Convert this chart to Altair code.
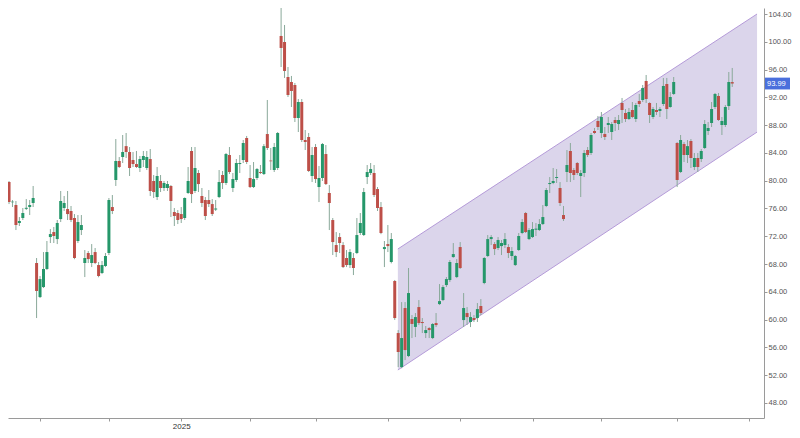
import altair as alt
import pandas as pd

opens = [78.56,79.81,76.90,76.50,73.91,74.63,75.95,76.21,76.79,68.15,63.25,64.69,67.29,71.89,72.61,71.60,74.48,76.07,75.92,75.64,
74.63,71.32,72.90,68.15,69.59,68.15,69.73,67.86,66.71,67.72,69.59,76.21,80.10,82.84,83.41,84.98,84.13,82.98,82.40,81.83,
82.98,81.83,83.12,79.96,77.65,79.96,78.95,78.95,79.24,75.49,75.35,75.20,74.63,78.23,84.28,78.52,81.11,77.80,77.22,77.22,
76.64,75.85,77.65,80.82,79.67,83.70,78.95,80.10,82.40,82.98,86.15,80.39,79.09,80.39,81.25,80.96,86.72,82.90,81.54,81.83,
100.84,99.97,94.93,94.21,93.78,89.03,91.33,85.86,86.29,80.68,84.85,79.09,80.39,83.84,78.23,74.34,70.74,71.89,70.74,68.87,
67.86,68.87,69.59,72.47,72.18,80.53,81.11,81.11,78.80,76.21,70.16,70.88,68.30,65.56,58.07,53.17,61.67,54.76,60.09,58.95,
61.81,59.66,58.07,58.79,57.35,59.51,62.24,62.82,64.98,65.70,69.01,66.13,70.45,59.94,60.95,59.66,60.23,60.23,61.96,65.27,
69.16,71.60,70.88,70.31,70.59,70.74,70.45,69.16,67.86,70.02,72.47,75.35,71.60,71.89,72.95,72.90,73.76,76.36,79.52,79.67,
80.39,78.95,75.06,81.25,84.28,81.54,82.55,80.68,81.11,84.42,83.99,87.16,88.60,86.87,86.72,88.02,87.01,88.74,88.16,91.19,
89.75,88.88,90.18,88.88,91.48,91.62,94.36,91.19,89.17,90.18,90.04,91.04,93.92,90.61,92.49,85.43,81.25,85.28,83.70,85.72,
81.97,83.27,83.12,84.71,87.16,88.31,90.61,92.20,88.02,88.02,90.75,94.20]
highs = [80.24,79.96,77.22,77.08,74.77,76.07,77.36,77.22,79.24,68.87,66.28,69.73,71.32,73.04,73.33,74.34,78.52,77.80,78.52,76.36,
75.20,75.06,75.06,70.02,69.88,70.88,70.31,68.30,68.44,69.59,77.51,77.94,86.00,83.41,86.58,86.87,84.85,84.13,84.28,83.56,
84.28,84.28,84.56,80.82,81.97,80.82,79.96,79.96,79.38,76.07,75.78,76.21,77.60,81.97,84.85,84.85,81.54,78.95,77.65,78.66,
77.36,77.22,81.54,81.40,83.99,84.85,81.11,83.12,83.70,85.86,86.44,82.26,82.69,81.83,82.26,85.28,91.62,84.71,85.43,87.01,
105.01,102.42,96.37,95.08,94.07,91.76,91.76,87.30,86.87,84.85,85.28,82.12,85.43,85.14,79.38,74.63,72.61,72.47,71.17,70.02,
70.16,69.59,74.63,75.35,78.95,82.26,82.55,82.26,79.09,76.93,71.32,73.62,72.47,65.71,58.50,62.53,62.53,67.43,60.66,60.95,
62.82,60.23,59.08,58.93,59.51,60.95,65.12,64.98,66.13,68.58,71.03,68.72,71.17,63.83,61.81,61.09,60.66,62.39,62.96,69.01,
72.18,72.18,71.17,71.89,71.46,72.47,70.88,70.45,69.30,72.47,74.48,75.50,73.19,74.05,73.91,74.48,76.50,78.95,80.53,81.83,
81.68,79.81,76.36,84.42,85.43,81.83,82.69,81.54,84.42,84.85,86.87,87.59,89.32,89.89,87.73,89.17,88.45,89.17,89.46,91.91,
90.32,90.47,91.33,91.19,92.49,93.78,95.22,91.30,90.61,91.19,90.61,94.79,94.79,92.77,94.93,85.57,86.58,85.57,85.86,86.00,
83.99,83.99,84.56,88.74,88.45,91.33,92.63,92.63,89.17,90.90,95.65,96.23]
lows = [78.37,76.64,76.21,72.90,73.48,74.34,75.78,75.06,76.21,60.23,63.11,64.55,67.14,71.03,71.03,70.88,74.05,75.64,74.34,74.05,
68.70,71.03,72.18,66.13,68.15,67.57,68.00,66.10,66.56,67.57,69.30,75.20,79.24,81.83,82.55,83.27,80.68,81.97,81.83,81.25,
81.97,81.54,77.80,77.51,77.22,78.37,78.52,78.52,74.77,73.48,73.76,73.91,74.34,78.10,76.79,78.23,78.37,76.21,74.34,76.21,
74.92,75.64,77.50,78.80,79.38,80.96,78.37,79.81,81.11,82.55,82.40,78.95,78.95,80.10,80.96,80.82,84.42,81.54,81.25,81.54,
96.37,94.79,92.05,90.61,88.45,87.01,85.57,84.42,81.25,79.81,79.67,76.93,79.96,79.38,72.90,69.30,69.01,69.59,67.43,67.57,
67.43,66.42,69.44,72.18,72.04,79.52,80.82,77.65,75.64,72.30,67.57,69.73,68.10,59.96,53.17,53.00,54.18,54.61,57.35,57.49,
59.22,58.07,57.35,57.35,57.20,58.93,62.10,62.67,64.69,65.41,68.90,65.98,67.29,58.93,59.22,58.93,59.66,59.66,60.66,65.10,
69.01,70.74,69.30,70.02,69.30,70.31,68.87,68.58,67.72,69.88,72.30,72.47,71.46,71.75,72.04,72.76,73.62,76.20,78.23,79.50,
79.67,76.36,74.20,79.81,79.81,80.10,80.82,77.65,80.53,83.41,83.70,86.72,87.30,86.15,85.86,86.87,85.86,87.16,87.30,88.31,
88.45,88.74,89.00,88.45,90.61,91.33,91.19,88.31,88.88,89.46,89.17,90.75,88.88,90.50,92.34,79.09,81.11,82.69,82.55,81.83,
81.54,81.25,82.69,84.56,86.58,87.73,90.32,88.60,86.58,87.73,90.18,93.50]
closes = [79.86,76.93,76.98,73.62,74.20,75.35,76.10,76.50,77.51,64.12,65.84,67.29,69.73,72.32,72.04,73.91,77.08,76.79,75.20,74.34,
68.87,74.05,73.62,68.87,68.72,69.30,68.15,66.28,67.86,69.16,77.22,75.64,82.84,81.97,84.13,84.13,81.83,82.40,81.97,83.12,
83.56,83.41,78.52,78.37,80.68,78.95,79.67,79.52,77.08,74.92,74.34,74.48,77.51,79.96,78.08,81.83,79.52,76.79,74.92,76.64,
75.20,76.00,79.81,79.67,83.84,81.25,80.24,82.55,82.55,85.43,82.69,79.09,80.24,81.68,81.11,84.98,84.71,82.80,84.85,86.87,
99.11,95.80,92.34,92.92,89.03,91.33,85.86,85.57,81.40,83.70,80.24,80.39,85.28,79.52,76.79,71.17,69.73,71.03,67.57,67.86,
69.73,67.43,72.18,73.91,78.37,81.25,81.68,77.94,76.07,72.47,70.45,70.59,71.60,60.23,55.34,57.35,55.62,63.83,59.38,60.37,
59.51,59.51,58.50,58.50,59.37,59.22,62.67,64.69,65.84,68.30,69.44,68.15,67.43,61.67,60.37,60.37,59.94,61.52,60.95,68.87,
71.60,71.89,70.16,71.46,71.03,71.60,69.59,69.88,69.16,72.04,74.05,72.61,72.90,73.04,73.10,73.76,74.77,78.66,79.67,79.96,
80.53,76.79,74.48,82.26,81.11,80.82,81.11,81.11,83.99,83.70,86.58,86.87,87.73,89.17,86.29,88.31,88.16,88.31,88.74,90.18,
88.88,89.89,89.17,90.90,91.04,93.35,91.76,89.46,90.32,89.89,90.32,93.64,90.32,92.05,94.21,80.10,85.86,83.70,84.98,83.27,
83.27,81.97,84.28,88.16,87.59,90.32,92.49,88.74,88.60,90.61,94.21,93.99]

tick_idx = [10, 30, 51, 71, 90, 111, 132, 153, 173, 195, 216]
tick_labels = ["", "", "2025", "", "", "", "", "", "", "", ""]
price_ticks = [48, 52, 56, 60, 64, 68, 72, 76, 80, 84, 88, 92, 96, 100, 104]

channel_idx = [113.9, 218.2]
channel_upper = [70.17, 104.0]
channel_lower = [52.75, 87.0]
last_price = 93.99

GREEN = "#25976a"
RED = "#bd4f48"
WICK = "#8aa99a"

df = pd.DataFrame({"i": list(range(len(opens))), "open": opens, "high": highs,
                   "low": lows, "close": closes})
df["dir"] = ["up" if c >= o else "down" for o, c in zip(opens, closes)]

ch = pd.DataFrame({"i": channel_idx, "upper": channel_upper, "lower": channel_lower})
lp = pd.DataFrame({"p": [last_price]})

W, H = 756, 410
PAD_R = 784 - W
xs = alt.Scale(domain=[2.15, 2.15 + W / 3.49], nice=False, zero=False)
ys = alt.Scale(domain=[45.84, 104.864], nice=False, zero=False)

label_expr = " : ".join(
    [f"datum.value == {v} ? '{l}'" for v, l in zip(tick_idx, tick_labels) if l]
) + " : ''"

x_axis = alt.Axis(values=tick_idx, labelExpr=label_expr, grid=False, title=None,
                  domainColor="#9a9a9a", tickColor="#9a9a9a", tickSize=3,
                  labelColor="#333", labelFontSize=8, labelFont="Liberation Sans",
                  labelPadding=1, orient="bottom")
y_axis = alt.Axis(values=price_ticks, format=".2f", grid=False, title=None, orient="right",
                  domainColor="#9a9a9a", tickColor="#9a9a9a", tickSize=3,
                  labelColor="#555", labelFontSize=7.5, labelFont="Liberation Sans",
                  labelPadding=1)

X = alt.X("i:Q", scale=xs, axis=x_axis)

channel = alt.Chart(ch).mark_area(color="#dbd5eb", opacity=1, clip=True).encode(
    x=X,
    y=alt.Y("upper:Q", scale=ys, axis=y_axis),
    y2="lower:Q",
)
ch_up = alt.Chart(ch).mark_line(color="#b49ad8", strokeWidth=1, clip=True).encode(
    x=X, y=alt.Y("upper:Q", scale=ys, axis=y_axis))
ch_lo = alt.Chart(ch).mark_line(color="#b49ad8", strokeWidth=1, clip=True).encode(
    x=X, y=alt.Y("lower:Q", scale=ys, axis=y_axis))

wicks = alt.Chart(df).mark_rule(color=WICK, strokeWidth=1, clip=True).encode(
    x=X,
    y=alt.Y("low:Q", scale=ys, axis=y_axis),
    y2="high:Q",
)
bodies = alt.Chart(df).mark_bar(size=3, clip=True).encode(
    x=X,
    y=alt.Y("open:Q", scale=ys, axis=y_axis),
    y2="close:Q",
    color=alt.Color("dir:N", scale=alt.Scale(domain=["up", "down"], range=[GREEN, RED]),
                    legend=None),
)

lp_box = alt.Chart(lp).transform_calculate(
    top="datum.p + 0.85", bot="datum.p - 0.85"
).mark_rect(color="#4a6fdc").encode(
    x=alt.value(W + 1), x2=alt.value(W + 26),
    y=alt.Y("top:Q", scale=ys, axis=y_axis), y2="bot:Q",
)
lp_text = alt.Chart(lp).mark_text(color="white", fontSize=7.5, font="Liberation Sans",
                                   align="left", baseline="middle").encode(
    x=alt.value(W + 3),
    y=alt.Y("p:Q", scale=ys, axis=y_axis),
    text=alt.Text("p:Q", format=".2f"),
)

chart = alt.layer(channel, ch_up, ch_lo, wicks, bodies, lp_box, lp_text).properties(
    width=W, height=H,
    padding={"left": 0, "top": 0, "right": PAD_R, "bottom": 12},
    autosize=alt.AutoSizeParams(type="none"),
    background="white",
).configure_view(stroke=None)

chart.save("out.html", embed_options={"renderer": "svg", "actions": False})
